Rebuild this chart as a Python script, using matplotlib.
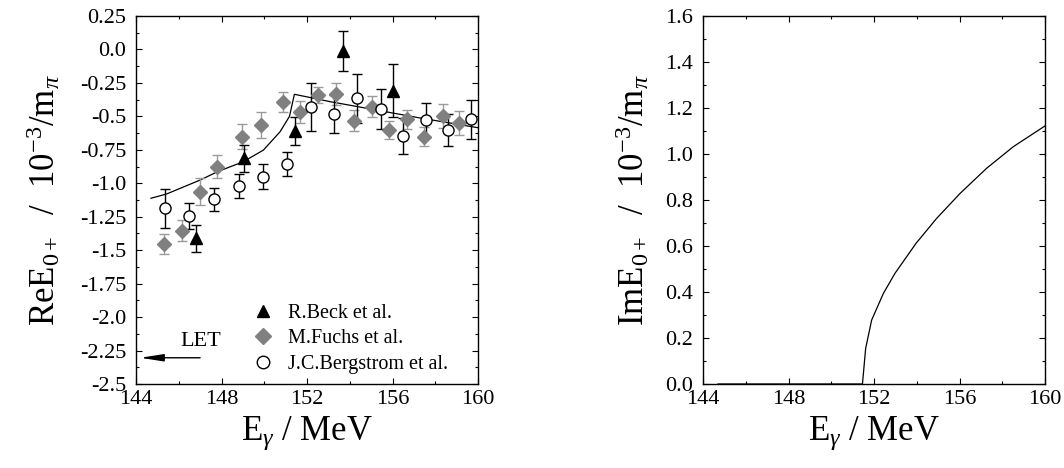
import numpy as np
import matplotlib
matplotlib.use("Agg")
import matplotlib.pyplot as plt
from matplotlib.ticker import MultipleLocator
from matplotlib.lines import Line2D

# --- data ---
# R.Beck et al.
beck_e = [146.8, 149.07, 151.44, 153.7, 156.04]
beck_v = [-1.41, -0.814, -0.61, -0.009, -0.308]
beck_err = [0.10, 0.10, 0.105, 0.15, 0.20]

# M.Fuchs et al.
fuchs_e = [145.33, 146.14, 146.99, 147.8, 148.97, 149.85, 150.86, 151.67, 152.53,
           153.36, 154.2, 155.03, 155.84, 156.66, 157.49, 158.35, 159.13]
fuchs_v = [-1.454, -1.354, -1.063, -0.876, -0.652, -0.565, -0.395, -0.465, -0.34,
           -0.333, -0.532, -0.428, -0.602, -0.522, -0.652, -0.495, -0.552]
fuchs_err = [0.078, 0.08, 0.10, 0.085, 0.095, 0.095, 0.075, 0.083, 0.06,
             0.08, 0.08, 0.08, 0.07, 0.072, 0.073, 0.09, 0.09]

# J.C.Bergstrom et al.
berg_e = [145.36, 146.49, 147.66, 148.83, 149.93, 151.08, 152.17, 153.28, 154.34,
          155.46, 156.5, 157.57, 158.61, 159.66]
berg_v = [-1.187, -1.245, -1.12, -1.02, -0.95, -0.856, -0.428, -0.482, -0.365,
          -0.445, -0.647, -0.527, -0.602, -0.52]
berg_err = [0.145, 0.10, 0.087, 0.09, 0.092, 0.093, 0.18, 0.143, 0.184,
            0.15, 0.137, 0.125, 0.118, 0.146]

# theory curve, real part
re_e = [144.7, 145.43, 147.0, 147.82, 149.02, 149.96, 150.74, 151.18, 151.41,
        153.08, 157.29, 160.0]
re_v = [-1.112, -1.08, -0.976, -0.913, -0.839, -0.752, -0.615, -0.5, -0.335,
        -0.39, -0.512, -0.585]

# theory curve, imaginary part
im_e = [144.7, 151.46, 151.61, 151.89, 152.44, 152.98, 153.97, 154.93, 156.03,
        157.27, 158.52, 160.0]
im_v = [0.0, 0.0, 0.155, 0.278, 0.394, 0.481, 0.612, 0.72, 0.829, 0.938, 1.032, 1.122]

re_ticks = [0.25, 0.0, -0.25, -0.5, -0.75, -1.0, -1.25, -1.5, -1.75, -2.0, -2.25, -2.5]
re_ticklabels = ['0.25', '0.0', '-0.25', '-0.5', '-0.75', '-1.0', '-1.25', '-1.5',
                 '-1.75', '-2.0', '-2.25', '-2.5']
im_ticks = [0.0, 0.2, 0.4, 0.6, 0.8, 1.0, 1.2, 1.4, 1.6]

plt.rcParams['font.family'] = ['Liberation Serif', 'DejaVu Serif']
plt.rcParams['mathtext.fontset'] = 'custom'
plt.rcParams['mathtext.rm'] = 'Liberation Serif'
plt.rcParams['mathtext.it'] = 'Liberation Serif:italic'
plt.rcParams['xtick.direction'] = 'in'
plt.rcParams['ytick.direction'] = 'in'

fig = plt.figure(figsize=(10.64, 4.68), dpi=100)
ax1 = fig.add_axes([136 / 1064, 84 / 468, 342 / 1064, 368 / 468])
ax2 = fig.add_axes([703 / 1064, 84 / 468, 342 / 1064, 368 / 468])

grey = '#808080'
ebgrey = '#9a9a9a'

# --- left panel: real part ---
ax1.plot(re_e, re_v, color='black', lw=0.9)
ax1.errorbar(fuchs_e, fuchs_v, yerr=fuchs_err, fmt='D', color=grey, ecolor=ebgrey,
             ms=7.5, mec=grey, capsize=3.5, elinewidth=1.0, capthick=1.0)
ax1.errorbar(berg_e, berg_v, yerr=berg_err, fmt='o', mfc='white', mec='black',
             ecolor='black', ms=8, mew=1.0, capsize=3.5, elinewidth=1.0, capthick=1.0)
ax1.errorbar(beck_e, beck_v, yerr=beck_err, fmt='^', color='black', ms=8,
             capsize=3.5, elinewidth=1.0, capthick=1.0)

ax1.annotate('', xy=(144.2, -2.304), xytext=(147.0, -2.304),
             arrowprops=dict(arrowstyle='-|>,head_length=1.4,head_width=0.22',
                             color='black', lw=1.0, shrinkA=0, shrinkB=0))
ax1.text(147.05, -2.255, 'LET', fontsize=16, ha='center', va='bottom')

handles = [
    Line2D([], [], ls='none', marker='^', color='black', ms=8.5),
    Line2D([], [], ls='none', marker='D', color=grey, ms=8),
    Line2D([], [], ls='none', marker='o', mfc='white', mec='black', ms=9),
]
ax1.legend(handles, ['R.Beck et al.', 'M.Fuchs et al.', 'J.C.Bergstrom et al.'],
           loc='lower left', bbox_to_anchor=(0.30, -0.01), frameon=False,
           fontsize=14.5, handlelength=1.0, handletextpad=0.75, labelspacing=0.3,
           borderpad=0.2)

ax1.set_xlim(144, 160)
ax1.set_ylim(-2.5, 0.25)
ax1.xaxis.set_major_locator(MultipleLocator(4))
ax1.xaxis.set_minor_locator(MultipleLocator(2))
ax1.yaxis.set_minor_locator(MultipleLocator(0.125))
ax1.set_yticks(re_ticks)
ax1.set_yticklabels(re_ticklabels)
ax1.set_ylabel(r'ReE$_{0+}$  /  10$^{-3}$/m$_{\pi}$', fontsize=25, labelpad=12)
ax1.set_xlabel(r'E$_{\gamma}$ / MeV', fontsize=25, labelpad=4)

# --- right panel: imaginary part ---
ax2.plot(im_e, im_v, color='black', lw=0.9)
ax2.set_xlim(144, 160)
ax2.set_ylim(0, 1.6)
ax2.xaxis.set_major_locator(MultipleLocator(4))
ax2.xaxis.set_minor_locator(MultipleLocator(2))
ax2.yaxis.set_minor_locator(MultipleLocator(0.1))
ax2.set_yticks(im_ticks)
ax2.set_yticklabels([f'{t:.1f}' for t in im_ticks])
ax2.set_ylabel(r'ImE$_{0+}$  /  10$^{-3}$/m$_{\pi}$', fontsize=25, labelpad=10)
ax2.set_xlabel(r'E$_{\gamma}$ / MeV', fontsize=25, labelpad=4)

for ax in (ax1, ax2):
    ax.tick_params(which='both', top=True, right=True, labelsize=16)
    ax.tick_params(axis='y', pad=7)
    ax.tick_params(axis='x', pad=4)
    ax.tick_params(which='major', length=4, width=0.8)
    ax.tick_params(which='minor', length=2.5, width=0.8)
    for sp in ax.spines.values():
        sp.set_linewidth(1.0)

fig.savefig('out.png', dpi=100)
